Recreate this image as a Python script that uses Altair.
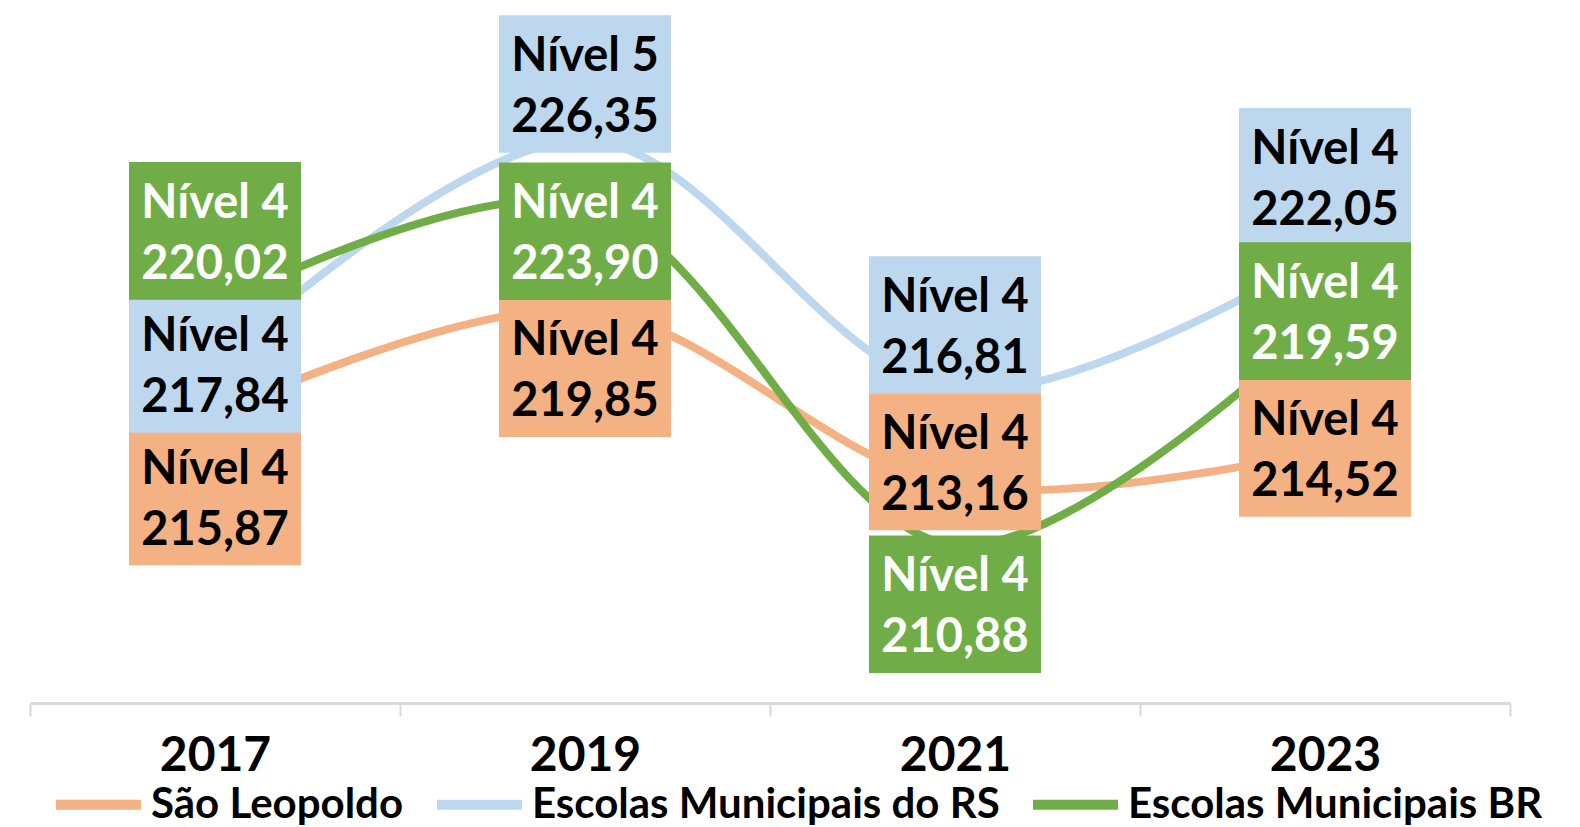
import altair as alt
import pandas as pd

years = ["2017", "2019", "2021", "2023"]
series_names = ["São Leopoldo", "Escolas Municipais do RS", "Escolas Municipais BR"]
colors = ["#F4B183", "#BDD7EE", "#70AD47"]

sao_values = [215.87, 219.85, 213.16, 214.52]
rs_values = [217.84, 226.35, 216.81, 222.05]
br_values = [220.02, 223.90, 210.88, 219.59]

sao_levels = ["Nível 4", "Nível 4", "Nível 4", "Nível 4"]
rs_levels = ["Nível 4", "Nível 5", "Nível 4", "Nível 4"]
br_levels = ["Nível 4", "Nível 4", "Nível 4", "Nível 4"]

# label box offsets from the data point, in pixels (positive = downwards)
sao_dy = [82, 58, -24, -2]
rs_dy = [1, -56, -65, -76]
br_dy = [-75, 27, 59, -6]

Y_MIN, Y_MAX = 204.86, 231.39
PLOT_W, PLOT_H = 1480, 695
PX_PER_UNIT = PLOT_H / (Y_MAX - Y_MIN)

rows = []
for name, vals, levs, dys in zip(
    series_names,
    [sao_values, rs_values, br_values],
    [sao_levels, rs_levels, br_levels],
    [sao_dy, rs_dy, br_dy],
):
    for yr, v, lv, dy in zip(years, vals, levs, dys):
        rows.append(dict(year=yr, series=name, value=v,
                         label=lv + "\n" + f"{v:.2f}".replace(".", ","),
                         dy=dy))
df = pd.DataFrame(rows)

FONT = "Lato"

x = alt.X("year:N", sort=years,
          scale=alt.Scale(paddingInner=0, paddingOuter=0),
          axis=alt.Axis(title=None, labelAngle=0, tickBand="extent",
                        labelFont=FONT, labelFontWeight="bold", labelFontSize=48,
                        labelColor="black", labelPadding=16,
                        domainColor="#D9D9D9", domainWidth=3,
                        tickColor="#D9D9D9", tickWidth=2, tickSize=13,
                        grid=False))
yscale = alt.Scale(domain=[Y_MIN, Y_MAX], nice=False, zero=False)
y = alt.Y("value:Q", scale=yscale, axis=None)
y_lab = alt.Y("label_v:Q", scale=yscale, axis=None)

color_scale = alt.Scale(domain=series_names, range=colors)

base = alt.Chart(df)
lab_base = base.transform_calculate(
    label_v=f"datum.value - datum.dy / {PX_PER_UNIT}"
)

line_layers = []
for i, name in enumerate(series_names):
    if i == 0:
        leg = alt.Legend(title=None, orient="none", direction="horizontal",
                         legendX=21, legendY=749,
                         symbolType="stroke", symbolSize=7225, symbolStrokeWidth=10,
                         labelFont=FONT, labelFontWeight="bold", labelFontSize=42,
                         labelColor="black", labelOffset=5, columnPadding=13,
                         labelLimit=600, padding=0)
        col = alt.Color("series:N", scale=color_scale, sort=series_names, legend=leg)
    else:
        col = alt.Color("series:N", scale=color_scale, sort=series_names)
    line_layers.append(
        base.transform_filter(alt.datum.series == name)
        .mark_line(interpolate="catmull-rom", strokeWidth=8, strokeCap="round")
        .encode(x=x, y=y, color=col)
    )

layers = list(line_layers)
for name in series_names:
    box = (lab_base.transform_filter(alt.datum.series == name)
           .mark_point(shape="M-1,-0.8H1V0.8H-1Z", size=29584, filled=True,
                       opacity=1, strokeWidth=0)
           .encode(x=x, y=y_lab,
                   fill=alt.Fill("series:N", scale=color_scale, legend=None)))
    txt = (lab_base.transform_filter(alt.datum.series == name)
           .mark_text(font=FONT, fontWeight="bold", fontSize=47, lineBreak="\n",
                      lineHeight=61, baseline="middle", align="center", dy=-27,
                      color="white" if name == "Escolas Municipais BR" else "black")
           .encode(x=x, y=y_lab, text="label:N"))
    layers += [box, txt]

chart = alt.layer(*layers).properties(
    width=PLOT_W, height=PLOT_H,
    padding={"left": 22, "top": 0, "right": 60, "bottom": 124},
    autosize=alt.AutoSizeParams(type="none"),
).configure_view(stroke=None)

chart.save("out.html", embed_options={"renderer": "svg", "actions": False})
